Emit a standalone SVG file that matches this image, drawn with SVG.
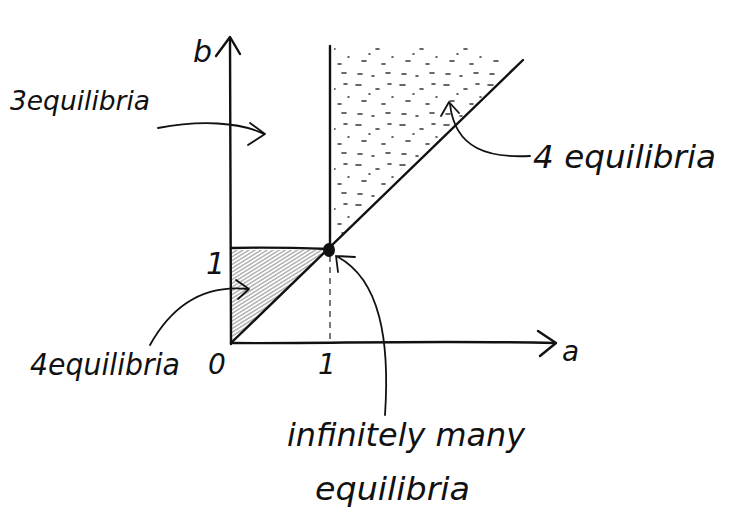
<svg xmlns="http://www.w3.org/2000/svg" width="751" height="513" viewBox="0 0 751 513">
<style>
.ln{fill:none;stroke:#111;stroke-width:2.4;stroke-linecap:round;stroke-linejoin:round}
.thin{fill:none;stroke:#111;stroke-width:1.8;stroke-linecap:round;stroke-linejoin:round}
.dash{fill:none;stroke:#222;stroke-width:1.2;stroke-dasharray:6 5}
.hw{font-family:"DejaVu Sans","Liberation Sans",sans-serif;font-style:italic;fill:#111}
</style>
<defs>
<pattern id="stip" width="44" height="40" patternUnits="userSpaceOnUse">
<path d="M4 5h5M24 9h3M36 4h3M10 21h4M30 24h3M40 17h1M6 34h4M20 36h2M34 33h4M17 14h1" stroke="#333" stroke-width="1.6" stroke-linecap="round"/>
</pattern>
<pattern id="hatch" width="6" height="3.2" patternUnits="userSpaceOnUse" patternTransform="rotate(-32)">
<path d="M0 1.6h6" stroke="#444" stroke-width="0.7"/>
</pattern>
<clipPath id="cTop"><polygon points="334,46 498,46 500,80 334,244"/></clipPath>
<clipPath id="cTri"><polygon points="232,250 326,250 232,340"/></clipPath>
</defs>

<g id="regions">
<rect x="334" y="46" width="170" height="200" fill="url(#stip)" clip-path="url(#cTop)"/>
<rect x="232" y="249" width="96" height="94" fill="url(#hatch)" clip-path="url(#cTri)"/>
</g>

<g id="axes">
<path class="ln" d="M231 344 C231 250 230 150 230 38"/>
<path class="ln" d="M216 56 L230 37 L240 54"/>
<path class="ln" d="M231 343 C320 344 420 340 555 343"/>
<path class="ln" d="M538 331 L556 343 L540 356"/>
</g>

<g id="curves">
<path class="ln" d="M330 46 L330 250"/>
<path class="ln" d="M231 343 L523 60"/>
<path class="ln" d="M231 248 C270 247 300 248 330 249"/>
<path class="dash" d="M330 256 L330 343"/>
<ellipse cx="329" cy="250" rx="6" ry="7" fill="#111"/>
</g>

<g id="labels">
<text class="hw" x="193" y="62" font-size="30">b</text>
<text class="hw" x="562" y="361" font-size="28">a</text>
<text class="hw" x="206" y="274" font-size="30">1</text>
<text class="hw" x="208" y="374" font-size="28">0</text>
<text class="hw" x="318" y="374" font-size="28">1</text>
</g>

<g id="note-3eq">
<text class="hw" x="10" y="110" font-size="27" textLength="140" lengthAdjust="spacingAndGlyphs">3equilibria</text>
</g>
<g id="note-4eq-top">
<text class="hw" x="533" y="168" font-size="32" textLength="183" lengthAdjust="spacingAndGlyphs">4 equilibria</text>
</g>
<g id="note-4eq-low">
<text class="hw" x="30" y="375" font-size="30" textLength="150" lengthAdjust="spacingAndGlyphs">4equilibria</text>
</g>
<g id="note-inf">
<text class="hw" x="287" y="446" font-size="32" textLength="238" lengthAdjust="spacingAndGlyphs">infinitely many</text>
<text class="hw" x="315" y="500" font-size="32" textLength="155" lengthAdjust="spacingAndGlyphs">equilibria</text>
</g>

<g id="connectors">
<path class="thin" d="M158 128 C200 120 240 122 264 134"/>
<path class="thin" d="M250 123 L265 134 L248 145"/>
<path class="thin" d="M530 156 C490 158 455 150 450 104"/>
<path class="thin" d="M441 116 L449 102 L459 113"/>
<path class="thin" d="M150 345 C175 300 210 285 248 289"/>
<path class="thin" d="M236 280 L249 289 L238 299"/>
<path class="thin" d="M385 415 C390 340 380 280 338 257"/>
<path class="thin" d="M336 256 L355 257 M336 256 L338 272"/>
</g>
</svg>
